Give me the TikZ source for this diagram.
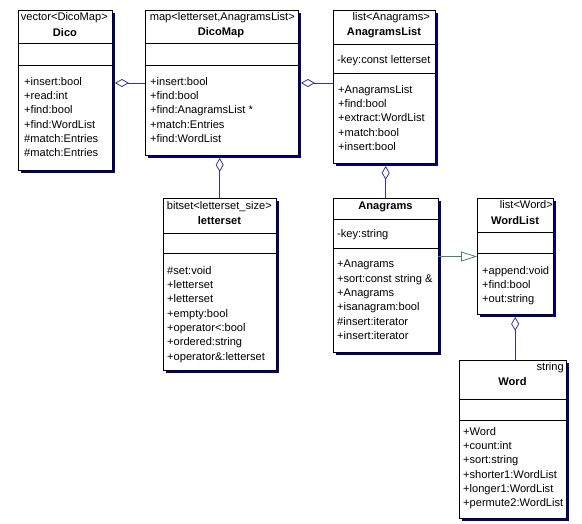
\documentclass[tikz,border=0pt]{standalone}
\usepackage{fontspec}
\setmainfont{Liberation Sans}
\usetikzlibrary{arrows.meta, shadows}
\definecolor{shadowblue}{RGB}{0,0,128}
\definecolor{linkblue}{RGB}{51,51,153}
\definecolor{genteal}{RGB}{64,128,128}
\tikzset{
  class box/.style={
    draw,
    fill=white,
    anchor=north west,
    inner sep=0pt,
    drop shadow={shadow xshift=2.5pt, shadow yshift=-2.5pt, fill=shadowblue, opacity=1},
  },
  stereo/.style={anchor=east, inner sep=0pt, font=\fontsize{11.1}{12}\selectfont},
  class name/.style={anchor=center, inner sep=0pt, font=\fontsize{11.1}{12}\selectfont\bfseries},
  members/.style={anchor=north west, inner sep=0pt, align=left,
    font=\fontsize{11.1}{14.3}\selectfont},
  aggregation/.style={draw=linkblue, line width=0.8pt,
    -{Diamond[open, length=14pt, width=8pt, fill=white]}, shorten >=2.5pt},
  generalization/.style={draw=genteal, line width=0.8pt,
    -{Triangle[open, length=16pt, width=10pt, fill=white]}},
}

\begin{document}
\begin{tikzpicture}[x=1pt, y=-1pt]
      \useasboundingbox (0,0) rectangle (582,523);

      % classes
      \node[class box, minimum width=94pt, minimum height=160pt] (dico) at (18,10) {};
      \node[class box, minimum width=153pt, minimum height=145pt] (dicomap) at (145,10) {};
      \node[class box, minimum width=102pt, minimum height=153pt] (anagramslist) at (333,10) {};
      \node[class box, minimum width=113pt, minimum height=172pt] (letterset) at (163,198) {};
      \node[class box, minimum width=105pt, minimum height=154pt] (anagrams) at (333,198) {};
      \node[class box, minimum width=76pt, minimum height=116pt] (wordlist) at (477,198) {};
      \node[class box, minimum width=107pt, minimum height=158pt] (word) at (459,360) {};

      % compartments
      \draw (dico.west |- 0,43) -- (dico.east |- 0,43);
      \draw (dico.west |- 0,65) -- (dico.east |- 0,65);
      \draw (dicomap.west |- 0,43) -- (dicomap.east |- 0,43);
      \draw (dicomap.west |- 0,65) -- (dicomap.east |- 0,65);
      \draw (anagramslist.west |- 0,44) -- (anagramslist.east |- 0,44);
      \draw (anagramslist.west |- 0,73) -- (anagramslist.east |- 0,73);
      \draw (letterset.west |- 0,233) -- (letterset.east |- 0,233);
      \draw (letterset.west |- 0,253) -- (letterset.east |- 0,253);
      \draw (anagrams.west |- 0,219) -- (anagrams.east |- 0,219);
      \draw (anagrams.west |- 0,248) -- (anagrams.east |- 0,248);
      \draw (wordlist.west |- 0,232) -- (wordlist.east |- 0,232);
      \draw (wordlist.west |- 0,253) -- (wordlist.east |- 0,253);
      \draw (word.west |- 0,399) -- (word.east |- 0,399);
      \draw (word.west |- 0,420) -- (word.east |- 0,420);

      % headers
      \node[stereo] (dico-st) at (108,18) {vector<DicoMap>};
      \node[class name] (dico-nm) at (65,33) {Dico};
      \node[stereo] (dicomap-st) at (295,18) {map<letterset,AnagramsList>};
      \node[class name] (dicomap-nm) at (221,33) {DicoMap};
      \node[stereo] (anagramslist-st) at (430,18) {list<Anagrams>};
      \node[class name] (anagramslist-nm) at (384,33) {AnagramsList};
      \node[stereo] (letterset-st) at (272,207) {bitset<letterset\_size>};
      \node[class name] (letterset-nm) at (219.5,221) {letterset};
      \node[class name] (anagrams-nm) at (385.5,207) {Anagrams};
      \node[stereo] (wordlist-st) at (553,205) {list<Word>};
      \node[class name] (wordlist-nm) at (515,221) {WordList};
      \node[stereo] (word-st) at (564,368) {string};
      \node[class name] (word-nm) at (512.5,382) {Word};

      % attributes and operations
      \node[members] (anagramslist-at) at (337,55) {-key:const letterset};
      \node[members] (anagrams-at) at (337,229) {-key:string};
      \node[members] (dico-op) at (24,77) {+insert:bool\\+read:int\\+find:bool\\+find:WordList\\\#match:Entries\\\#match:Entries};
      \node[members] (dicomap-op) at (150,77) {+insert:bool\\+find:bool\\+find:AnagramsList *\\+match:Entries\\+find:WordList};
      \node[members] (anagramslist-op) at (338,85) {+AnagramsList\\+find:bool\\+extract:WordList\\+match:bool\\+insert:bool};
      \node[members] (letterset-op) at (167,266) {\#set:void\\+letterset\\+letterset\\+empty:bool\\+operator<:bool\\+ordered:string\\+operator\&:letterset};
      \node[members] (anagrams-op) at (337,260) {+Anagrams\\+sort:const string \&\\+Anagrams\\+isanagram:bool\\\#insert:iterator\\+insert:iterator};
      \node[members] (wordlist-op) at (482,266) {+append:void\\+find:bool\\+out:string};
      \node[members] (word-op) at (463,427) {+Word\\+count:int\\+sort:string\\+shorter1:WordList\\+longer1:WordList\\+permute2:WordList};

      % relations
      \draw[aggregation] (dicomap.west |- 0,83) -- (dico.east |- 0,83);
      \draw[aggregation] (anagramslist.west |- 0,83) -- (dicomap.east |- 0,83);
      \draw[aggregation] (letterset.north) -- (dicomap.south -| letterset.north);
      \draw[aggregation] (anagrams.north) -- (anagramslist.south -| anagrams.north);
      \draw[aggregation] (word.north -| wordlist.south) -- (wordlist.south);
      \draw[generalization] (anagrams.east |- 0,256.5) -- (wordlist.west |- 0,256.5);
    \end{tikzpicture}
\end{document}
